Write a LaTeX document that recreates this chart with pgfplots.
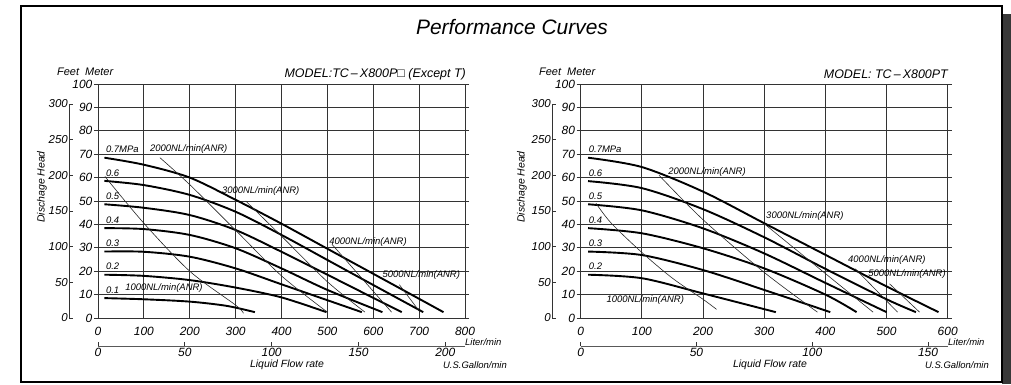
\documentclass[border=0pt]{standalone}
\usepackage{pgfplots}
\pgfplotsset{compat=1.18}
\usepackage{fontspec}
\setmainfont{Liberation Sans}

\pgfplotsset{
  main/.style={scale only axis, width=367bp, height=234bp, ymin=0, ymax=100,
    ytick={0,10,...,100}, grid=major,
    grid style={black!80, line width=0.9bp},
    axis line style={black!80, line width=0.9bp},
    tick style={black!80, line width=0.9bp},
    xtick style={draw=none}, tick align=outside, major tick length=4bp,
    tick label style={font=\itshape\fontsize{12}{13}\selectfont},
    /pgf/number format/assume math mode=true,
    xticklabel style={yshift=-2bp}, yticklabel style={inner sep=1.5bp},
    clip=false, anchor=south west},
  feet/.style={scale only axis, width=20bp, height=213.97bp, xmin=0, xmax=1,
    ymin=0, ymax=300, axis y line*=left, hide x axis, ytick={0,50,...,300},
    tick align=inside, major tick length=3.5bp,
    axis line style={black!80, line width=0.9bp},
    tick style={black!80, line width=0.9bp},
    tick label style={font=\itshape\fontsize{11.5}{12}\selectfont},
    /pgf/number format/assume math mode=true,
    yticklabel style={inner sep=1bp}, anchor=south west},
  gal/.style={scale only axis, width=367bp, height=20bp, ymin=0, ymax=1,
    axis x line*=bottom, hide y axis, xtick={0,50,...,200},
    tick align=inside, major tick length=4bp,
    axis line style={black!65, line width=1bp},
    tick style={black!80, line width=0.9bp},
    tick label style={font=\itshape\fontsize{12}{13}\selectfont},
    /pgf/number format/assume math mode=true,
    xticklabel style={inner sep=1.5bp}, anchor=south west},
  pressure/.style={black, line width=1.9bp, smooth, no markers},
  nl/.style={black!85, line width=0.6bp, smooth, no markers},
}
\tikzset{lab/.style={anchor=south west, inner sep=0pt, font=\itshape\fontsize{9.5}{10}\selectfont}}

\begin{document}
\begin{tikzpicture}[x=1bp,y=1bp]
\useasboundingbox (0,0) rectangle (1011,384);
\fill[black!78] (1002,0) rectangle (1011,370);
\draw[line width=1.5bp] (21,2) rectangle (1002,378);
\node[font=\itshape\fontsize{21}{22}\selectfont] at (512,357) {Performance Curves};

% ---------------- LEFT: TC-X800P ----------------
\begin{axis}[main, at={(98bp,66bp)}, xmin=0, xmax=800, xtick={0,100,...,800}]
\addplot[pressure] coordinates {(14,68.5)(100,65.5)(200,60)(300,50.5)(400,40.3)(500,29.6)(600,18.9)(700,8.2)(753,2.5)};
\addplot[pressure] coordinates {(14,58.6)(100,56.8)(200,52.6)(300,45.4)(400,35.5)(500,24.8)(600,14.1)(709,2.5)};
\addplot[pressure] coordinates {(14,48.6)(100,47.1)(200,44)(300,37.6)(400,28.3)(500,18.5)(600,8.6)(662,2.5)};
\addplot[pressure] coordinates {(14,38.4)(100,38)(200,35.5)(300,29.8)(400,21.2)(500,12)(620,2.5)};
\addplot[pressure] coordinates {(14,28.4)(100,28.3)(200,26.2)(300,21.2)(400,14.4)(500,7.6)(575,2.5)};
\addplot[pressure] coordinates {(14,18.5)(100,18)(200,16.2)(300,13)(400,8.8)(498,2.5)};
\addplot[pressure] coordinates {(14,8.5)(100,8)(200,7)(280,5.2)(342,2.5)};
\addplot[nl] coordinates {(15,60.5)(100,40.5)(200,20)(300,5.5)(317,2)};
\addplot[nl] coordinates {(135,68.5)(200,57)(300,37.5)(400,18)(500,2.5)};
\addplot[nl] coordinates {(322,50)(400,35)(500,15.5)(582,2.5)};
\addplot[nl] coordinates {(510,31.5)(640,2.5)};
\addplot[nl] coordinates {(657,14.2)(702,2.5)};
\node[lab] at (axis cs:17,70.4) {0.7MPa};
\node[lab] at (axis cs:17,60.4) {0.6};
\node[lab] at (axis cs:17,50.4) {0.5};
\node[lab] at (axis cs:17,40.4) {0.4};
\node[lab] at (axis cs:17,30.4) {0.3};
\node[lab] at (axis cs:17,20.4) {0.2};
\node[lab] at (axis cs:17,10.4) {0.1};
\node[lab] at (axis cs:59,10.8) {1000NL/min(ANR)};
\node[lab] at (axis cs:113,70.4) {2000NL/min(ANR)};
\node[lab] at (axis cs:270,52.2) {3000NL/min(ANR)};
\node[lab] at (axis cs:504,30.6) {4000NL/min(ANR)};
\node[lab] at (axis cs:620,16.2) {5000NL/min(ANR)};
\end{axis}
\begin{axis}[feet, at={(69bp,66bp)}]
\end{axis}
\begin{axis}[gal, at={(98bp,38bp)}, xmin=0, xmax=211.34]
\end{axis}

% ---------------- RIGHT: TC-X800PT ----------------
\begin{axis}[main, at={(580.7bp,66bp)}, xmin=0, xmax=600, xtick={0,100,...,600}]
\addplot[pressure] coordinates {(12,68.5)(100,64.5)(200,54)(300,40.5)(400,27)(500,13.5)(585,2.5)};
\addplot[pressure] coordinates {(12,58.5)(100,55.5)(200,46.5)(300,34.5)(400,21)(500,8)(548,2.5)};
\addplot[pressure] coordinates {(12,48.6)(100,46)(200,38.3)(300,27.6)(400,15)(500,2.5)};
\addplot[pressure] coordinates {(12,38.4)(100,36.2)(200,29.8)(300,21.2)(400,10)(451,2.5)};
\addplot[pressure] coordinates {(12,28.4)(100,26.9)(200,20.5)(300,12)(408,2.5)};
\addplot[pressure] coordinates {(12,18.5)(100,17)(200,10.5)(319,2.5)};
\addplot[nl] coordinates {(25,49)(50,40.5)(100,28)(150,17)(200,8)(222,3.7)};
\addplot[nl] coordinates {(128,61)(200,42)(300,19.5)(387,2.5)};
\addplot[nl] coordinates {(299,40.5)(400,19)(478,2.5)};
\addplot[nl] coordinates {(449,21)(518,2.5)};
\addplot[nl] coordinates {(505,14.6)(554,2.5)};
\node[lab] at (axis cs:13,70.4) {0.7MPa};
\node[lab] at (axis cs:13,60.4) {0.6};
\node[lab] at (axis cs:13,50.4) {0.5};
\node[lab] at (axis cs:13,40.4) {0.4};
\node[lab] at (axis cs:13,30.4) {0.3};
\node[lab] at (axis cs:13,20.4) {0.2};
\node[lab] at (axis cs:42,5.5) {1000NL/min(ANR)};
\node[lab] at (axis cs:143,60.4) {2000NL/min(ANR)};
\node[lab] at (axis cs:303,41.5) {3000NL/min(ANR)};
\node[lab] at (axis cs:437,22.8) {4000NL/min(ANR)};
\node[lab] at (axis cs:470,17) {5000NL/min(ANR)};
\end{axis}
\begin{axis}[feet, at={(552bp,66bp)}]
\end{axis}
\begin{axis}[gal, at={(580.7bp,38bp)}, xmin=0, xmax=158.50]
\end{axis}

% ---------------- texts around the axes ----------------
\begin{scope}[every node/.style={font=\itshape\fontsize{10.5}{11}\selectfont, inner sep=0pt}]
\node[anchor=east, font=\itshape\fontsize{12.5}{13}\selectfont] at (466,310) {MODEL:TC\,–\,X800P□ (Except T)};
\node[anchor=east, font=\itshape\fontsize{12.5}{13}\selectfont] at (948,310) {MODEL: TC\,–\,X800PT};
\node[anchor=west, font=\itshape\fontsize{11}{12}\selectfont] at (57,312) {Feet\ \ Meter};
\node[anchor=west, font=\itshape\fontsize{11}{12}\selectfont] at (539,312) {Feet\ \ Meter};
\node[rotate=90] at (42,197) {Dischage Head};
\node[rotate=90] at (522,197) {Dischage Head};
\node at (287,19) {Liquid Flow rate};
\node at (770,19) {Liquid Flow rate};
\node[anchor=west, font=\itshape\fontsize{9.5}{10}\selectfont] at (465,42) {Liter/min};
\node[anchor=west, font=\itshape\fontsize{9.5}{10}\selectfont] at (948,42) {Liter/min};
\node[anchor=east, font=\itshape\fontsize{9.5}{10}\selectfont] at (507,19) {U.S.Gallon/min};
\node[anchor=east, font=\itshape\fontsize{9.5}{10}\selectfont] at (989,19) {U.S.Gallon/min};
\end{scope}
\end{tikzpicture}
\end{document}
